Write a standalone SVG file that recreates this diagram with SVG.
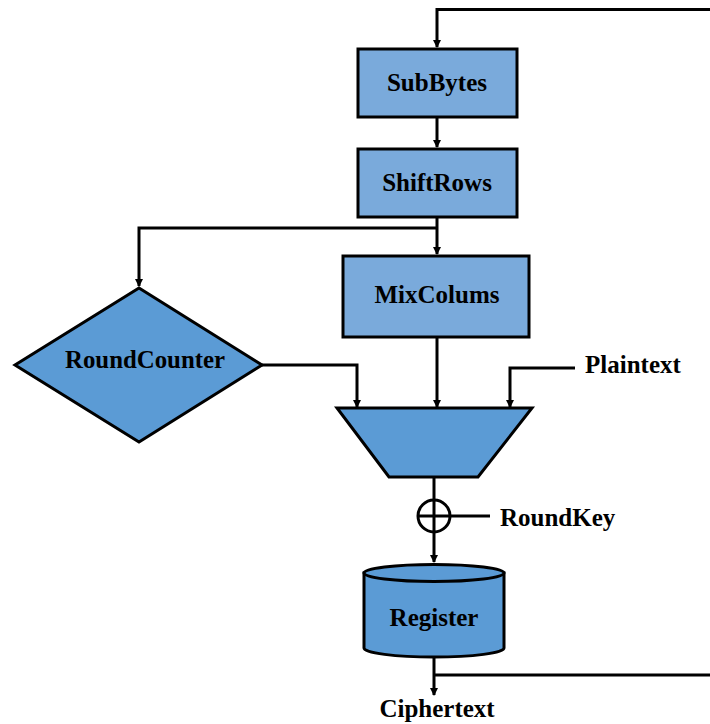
<svg xmlns="http://www.w3.org/2000/svg" width="710" height="724" viewBox="0 0 710 724">
<style>
.box{fill:#7aaadb;stroke:#000;stroke-width:3}
.shape{fill:#5b9bd5;stroke:#000;stroke-width:3}
.ln{fill:none;stroke:#000;stroke-width:3}
text{font-family:"Liberation Serif","Times New Roman",serif;font-weight:bold;font-size:25px;fill:#000}
.c{text-anchor:middle}
</style>
<defs>
<marker id="ah" markerWidth="10" markerHeight="10" refX="7" refY="4" orient="auto" markerUnits="userSpaceOnUse">
<path d="M0,0 L8,4 L0,8 Z" fill="#000"/>
</marker>
</defs>
<g id="connectors">
<path class="ln" d="M710,9.5 H437 V47" marker-end="url(#ah)"/>
<path class="ln" d="M437,118 V147" marker-end="url(#ah)"/>
<path class="ln" d="M437,218 V254" marker-end="url(#ah)"/>
<path class="ln" d="M437,228 H139 V286" marker-end="url(#ah)"/>
<path class="ln" d="M262,365 H357 V407" marker-end="url(#ah)"/>
<path class="ln" d="M437,337 V407" marker-end="url(#ah)"/>
<path class="ln" d="M575,368 H510 V407" marker-end="url(#ah)"/>
<path class="ln" d="M434,477 V562" marker-end="url(#ah)"/>
<path class="ln" d="M450,516 H490"/>
<path class="ln" d="M434,657 V695" marker-end="url(#ah)"/>
<path class="ln" d="M434,675 H710"/>
</g>
<g id="subbytes">
<rect class="box" x="358" y="49" width="159" height="68"/>
<text class="c" x="437" y="91">SubBytes</text>
</g>
<g id="shiftrows">
<rect class="box" x="358" y="149" width="159" height="68"/>
<text class="c" x="437" y="191">ShiftRows</text>
</g>
<g id="mixcolums">
<rect class="box" x="343" y="256" width="186" height="81"/>
<text class="c" x="437" y="303">MixColums</text>
</g>
<g id="roundcounter">
<polygon class="shape" points="139,288 262,365 139,442 15,365"/>
<text x="65" y="368" textLength="160" lengthAdjust="spacingAndGlyphs">RoundCounter</text>
</g>
<g id="mux">
<polygon class="shape" points="337,408 532,408 478,477 389,477"/>
</g>
<g id="plaintext">
<text x="585" y="373">Plaintext</text>
</g>
<g id="xor">
<circle cx="434" cy="516" r="16" fill="#fff" stroke="#000" stroke-width="3"/>
<path class="ln" d="M418,516 H450 M434,500 V532"/>
</g>
<g id="roundkey">
<text x="500" y="526">RoundKey</text>
</g>
<g id="register">
<path class="shape" d="M364,573 V648 A70,9 0 0 0 504,648 V573 Z"/>
<ellipse class="shape" cx="434" cy="573" rx="70" ry="8.5"/>
<text class="c" x="434" y="626">Register</text>
</g>
<g id="ciphertext">
<text class="c" x="437" y="717">Ciphertext</text>
</g>
</svg>
